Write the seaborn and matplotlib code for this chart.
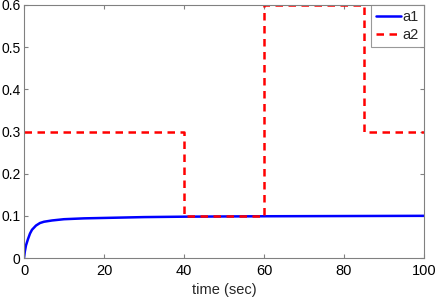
import matplotlib
matplotlib.use("Agg")
import matplotlib.pyplot as plt
import seaborn as sns
import pandas as pd

t_a1 = [0, 0.2, 0.5, 1, 1.5, 2, 3, 4, 5, 7, 10, 15, 20, 30, 40, 60, 80, 100]
a1 = [0, 0.015, 0.030, 0.045, 0.058, 0.067, 0.077, 0.083, 0.086, 0.089, 0.092, 0.094, 0.095, 0.097, 0.098, 0.099, 0.0995, 0.1]
t_a2 = [0, 40, 60, 85, 100]
a2 = [0.3, 0.1, 0.6, 0.3, 0.3]

sns.set_style("white")
plt.rcParams['font.family'] = ['Liberation Sans', 'DejaVu Sans']

fig = plt.figure(figsize=(4.36, 2.99), dpi=100)
ax = fig.add_axes([24/436, 41/299, 400/436, 253/299])

df1 = pd.DataFrame({"t": t_a1, "v": a1})
df2 = pd.DataFrame({"t": t_a2, "v": a2})
sns.lineplot(data=df1, x="t", y="v", ax=ax, color="#0000ff", lw=1.8, label="a1")
ax.plot(df2["t"], df2["v"], color="#ff0000", lw=1.8, ls=(0, (3, 2.2)), drawstyle="steps-post", label="a2")

ax.set_xlim(0, 100)
ax.set_ylim(0, 0.6)
ax.set_xticks([0, 20, 40, 60, 80, 100])
ax.set_yticks([0, 0.1, 0.2, 0.3, 0.4, 0.5, 0.6])
ax.set_yticklabels(["0", "0.1", "0.2", "0.3", "0.4", "0.5", "0.6"])
ax.set_xlabel("time (sec)", fontsize=10.5, labelpad=4)
ax.set_ylabel("")
for s in ax.spines.values():
    s.set_color("#808080")
    s.set_linewidth(0.8)
ax.tick_params(direction="in", length=3, color="#808080", labelcolor="black",
               top=True, right=True, bottom=True, left=True)
ax.tick_params(axis="x", labelsize=10.5, pad=4)
ax.tick_params(axis="y", labelsize=10, pad=2.5)
leg = ax.legend(loc="upper right", fontsize=10.5, frameon=True, fancybox=False,
                edgecolor="#808080", borderaxespad=0, handlelength=1.7, handletextpad=0.1,
                borderpad=0.35, labelspacing=0.25)
leg.get_frame().set_linewidth(0.8)
fig.savefig("out.png", dpi=100)
